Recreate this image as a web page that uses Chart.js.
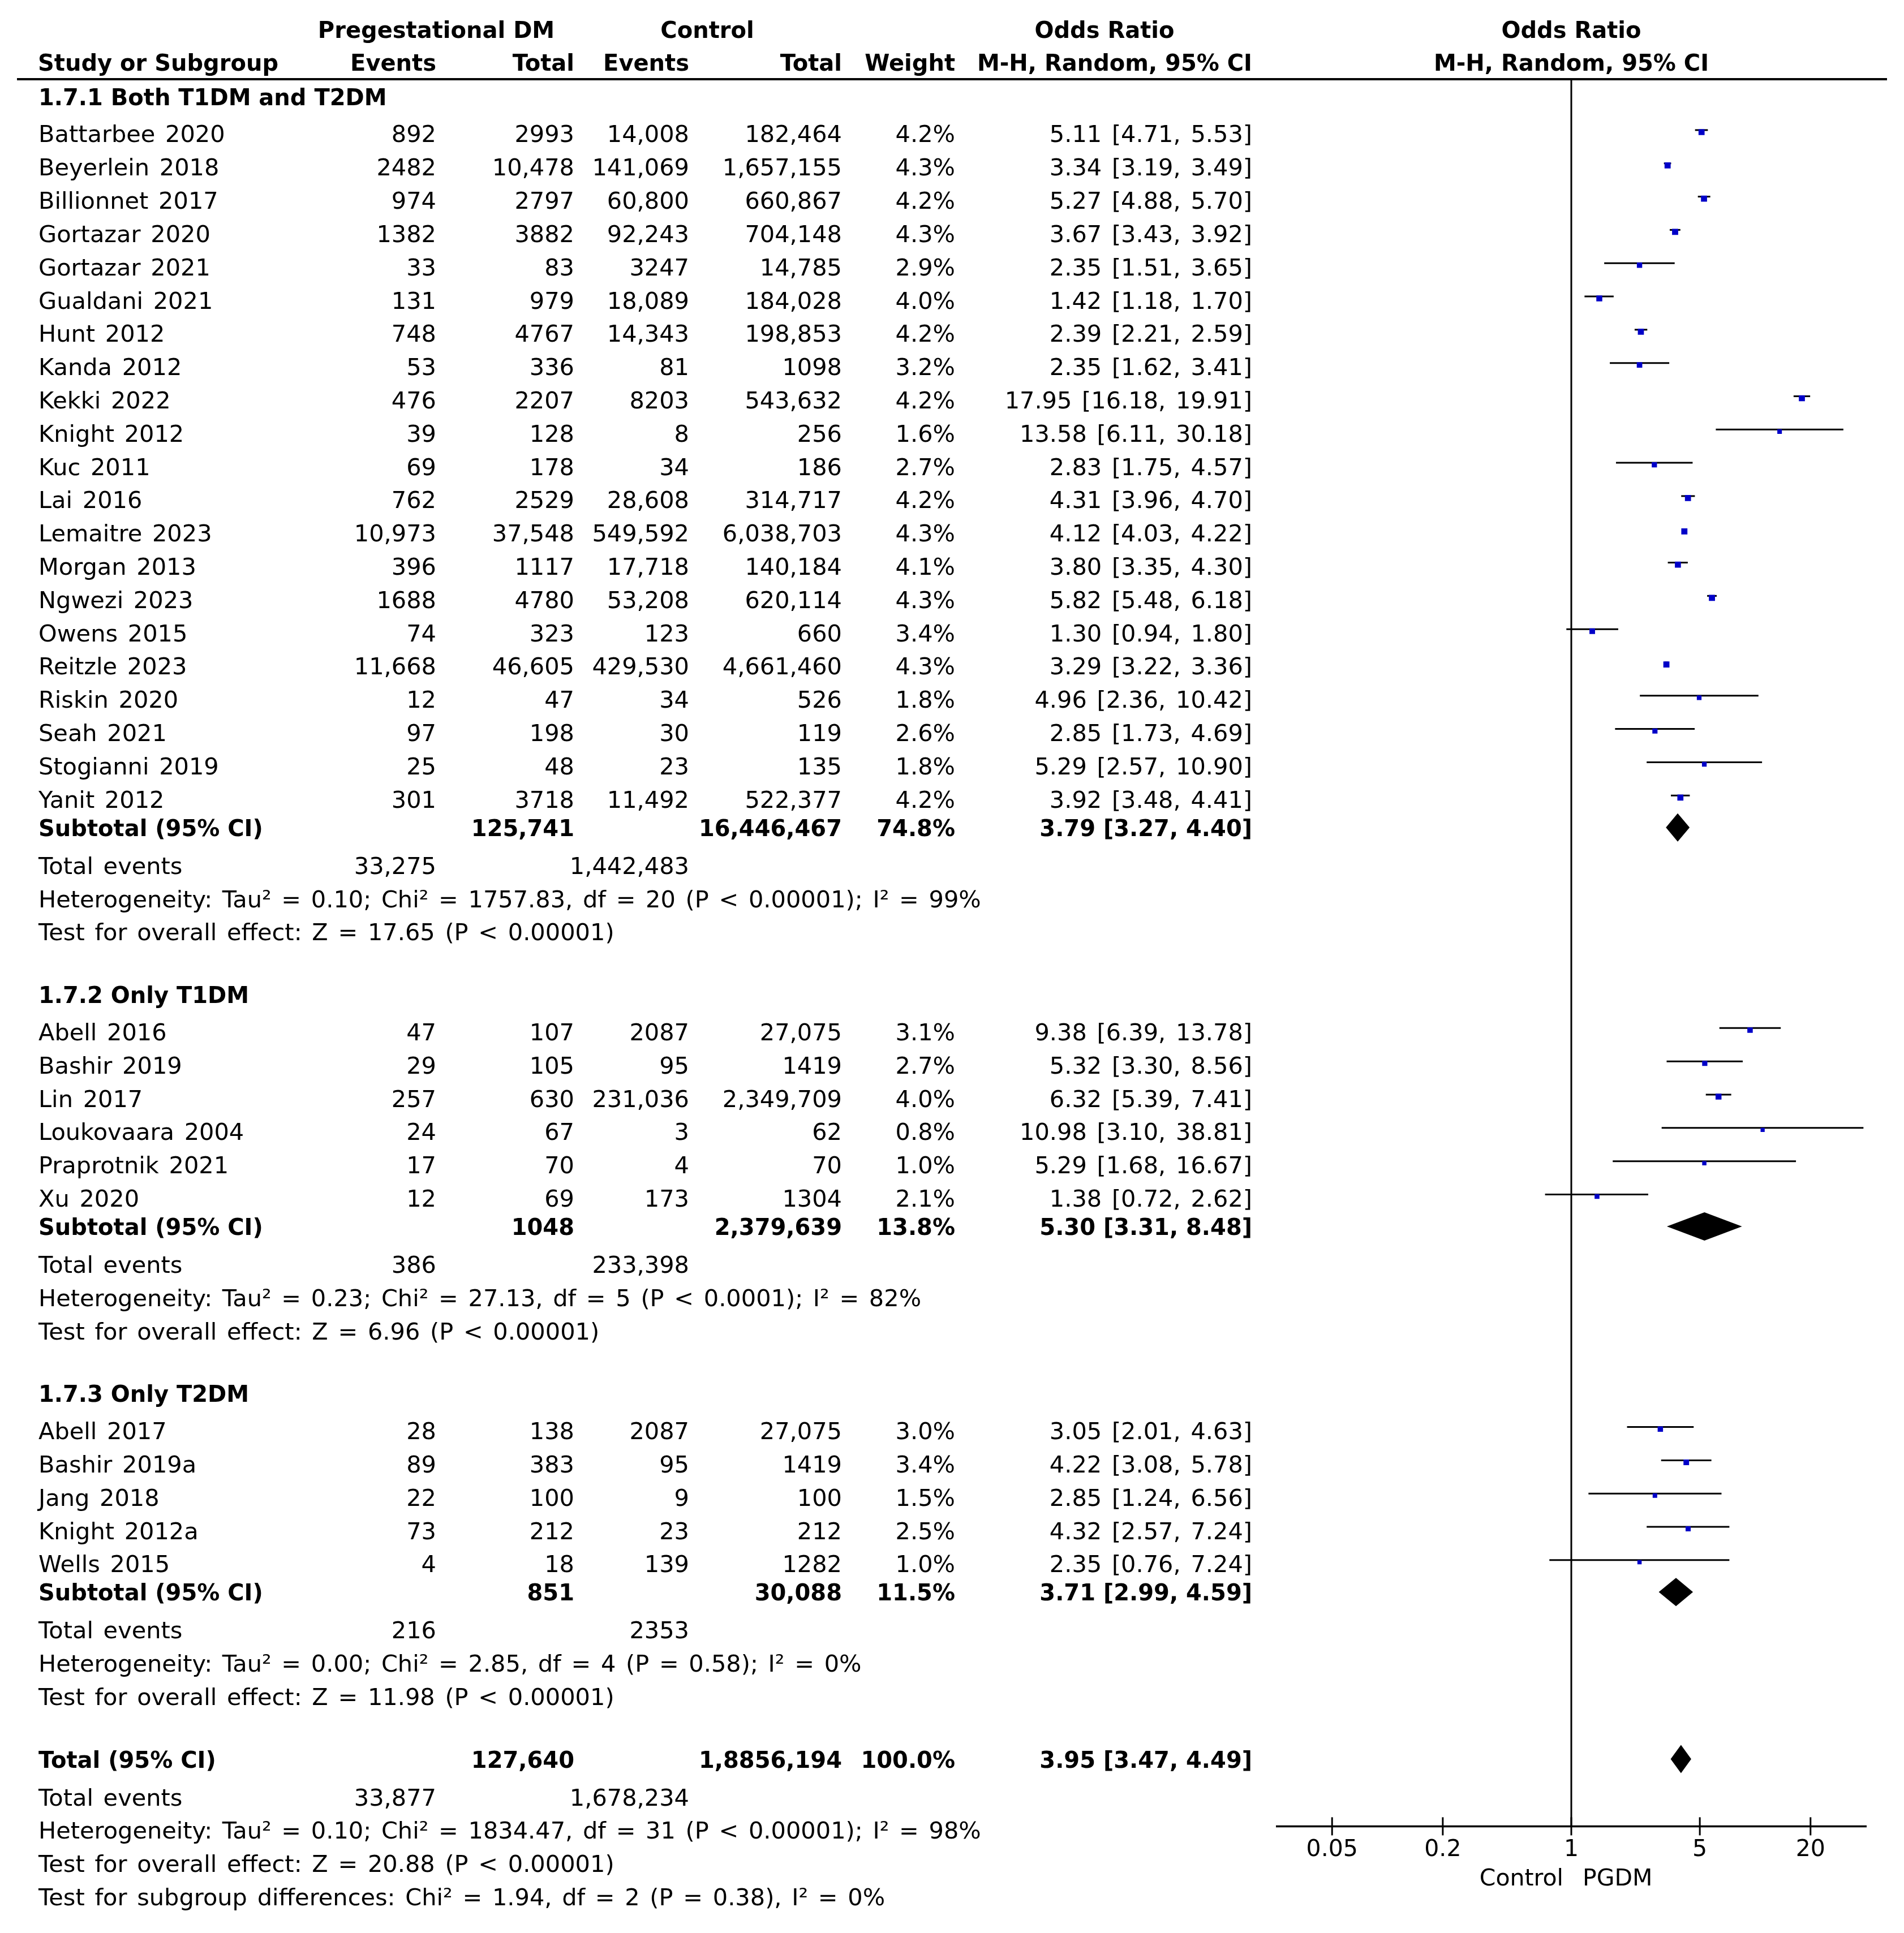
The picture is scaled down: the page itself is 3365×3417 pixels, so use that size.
<!DOCTYPE html>
<html>
<head>
<meta charset="utf-8">
<script src="https://cdn.jsdelivr.net/npm/chart.js@4.4.1/dist/chart.umd.min.js"></script>
<style>
  html, body { margin: 0; padding: 0; background: #fff; }
  canvas { display: block; }
</style>
</head>
<body>
<canvas id="foret" width="3365" height="3417"></canvas>
<script>
// 1.7.1 Both T1DM and T2DM
const noms1 = ['Battarbee 2020', 'Beyerlein 2018', 'Billionnet 2017', 'Gortazar 2020', 'Gortazar 2021',
  'Gualdani 2021', 'Hunt 2012', 'Kanda 2012', 'Kekki 2022', 'Knight 2012', 'Kuc 2011', 'Lai 2016',
  'Lemaitre 2023', 'Morgan 2013', 'Ngwezi 2023', 'Owens 2015', 'Reitzle 2023', 'Riskin 2020',
  'Seah 2021', 'Stogianni 2019', 'Yanit 2012'];
const pgEv1 = [892, 2482, 974, 1382, 33, 131, 748, 53, 476, 39, 69, 762, 10973, 396, 1688, 74, 11668, 12, 97, 25, 301];
const pgTot1 = [2993, 10478, 2797, 3882, 83, 979, 4767, 336, 2207, 128, 178, 2529, 37548, 1117, 4780, 323, 46605, 47, 198, 48, 3718];
const ctEv1 = [14008, 141069, 60800, 92243, 3247, 18089, 14343, 81, 8203, 8, 34, 28608, 549592, 17718, 53208, 123, 429530, 34, 30, 23, 11492];
const ctTot1 = [182464, 1657155, 660867, 704148, 14785, 184028, 198853, 1098, 543632, 256, 186, 314717, 6038703, 140184, 620114, 660, 4661460, 526, 119, 135, 522377];
const poids1 = [4.2, 4.3, 4.2, 4.3, 2.9, 4.0, 4.2, 3.2, 4.2, 1.6, 2.7, 4.2, 4.3, 4.1, 4.3, 3.4, 4.3, 1.8, 2.6, 1.8, 4.2];
const or1 = [5.11, 3.34, 5.27, 3.67, 2.35, 1.42, 2.39, 2.35, 17.95, 13.58, 2.83, 4.31, 4.12, 3.80, 5.82, 1.30, 3.29, 4.96, 2.85, 5.29, 3.92];
const bas1 = [4.71, 3.19, 4.88, 3.43, 1.51, 1.18, 2.21, 1.62, 16.18, 6.11, 1.75, 3.96, 4.03, 3.35, 5.48, 0.94, 3.22, 2.36, 1.73, 2.57, 3.48];
const haut1 = [5.53, 3.49, 5.70, 3.92, 3.65, 1.70, 2.59, 3.41, 19.91, 30.18, 4.57, 4.70, 4.22, 4.30, 6.18, 1.80, 3.36, 10.42, 4.69, 10.90, 4.41];
const sousTotal1 = [125741, 16446467, 74.8, 3.79, 3.27, 4.40];   // total PGDM, total control, poids, OR, bas, haut
const evTot1 = [33275, 1442483];
const hetero1 = 'Heterogeneity: Tau² = 0.10; Chi² = 1757.83, df = 20 (P < 0.00001); I² = 99%';
const effet1 = 'Test for overall effect: Z = 17.65 (P < 0.00001)';

// 1.7.2 Only T1DM
const noms2 = ['Abell 2016', 'Bashir 2019', 'Lin 2017', 'Loukovaara 2004', 'Praprotnik 2021', 'Xu 2020'];
const pgEv2 = [47, 29, 257, 24, 17, 12];
const pgTot2 = [107, 105, 630, 67, 70, 69];
const ctEv2 = [2087, 95, 231036, 3, 4, 173];
const ctTot2 = [27075, 1419, 2349709, 62, 70, 1304];
const poids2 = [3.1, 2.7, 4.0, 0.8, 1.0, 2.1];
const or2 = [9.38, 5.32, 6.32, 10.98, 5.29, 1.38];
const bas2 = [6.39, 3.30, 5.39, 3.10, 1.68, 0.72];
const haut2 = [13.78, 8.56, 7.41, 38.81, 16.67, 2.62];
const sousTotal2 = [1048, 2379639, 13.8, 5.30, 3.31, 8.48];
const evTot2 = [386, 233398];
const hetero2 = 'Heterogeneity: Tau² = 0.23; Chi² = 27.13, df = 5 (P < 0.0001); I² = 82%';
const effet2 = 'Test for overall effect: Z = 6.96 (P < 0.00001)';

// 1.7.3 Only T2DM
const noms3 = ['Abell 2017', 'Bashir 2019a', 'Jang 2018', 'Knight 2012a', 'Wells 2015'];
const pgEv3 = [28, 89, 22, 73, 4];
const pgTot3 = [138, 383, 100, 212, 18];
const ctEv3 = [2087, 95, 9, 23, 139];
const ctTot3 = [27075, 1419, 100, 212, 1282];
const poids3 = [3.0, 3.4, 1.5, 2.5, 1.0];
const or3 = [3.05, 4.22, 2.85, 4.32, 2.35];
const bas3 = [2.01, 3.08, 1.24, 2.57, 0.76];
const haut3 = [4.63, 5.78, 6.56, 7.24, 7.24];
const sousTotal3 = [851, 30088, 11.5, 3.71, 2.99, 4.59];
const evTot3 = [216, 2353];
const hetero3 = 'Heterogeneity: Tau² = 0.00; Chi² = 2.85, df = 4 (P = 0.58); I² = 0%';
const effet3 = 'Test for overall effect: Z = 11.98 (P < 0.00001)';

// Total
const total = [127640, '1,8856,194', 100.0, 3.95, 3.47, 4.49];
const evTotal = [33877, 1678234];
const heteroTotal = 'Heterogeneity: Tau² = 0.10; Chi² = 1834.47, df = 31 (P < 0.00001); I² = 98%';
const effetTotal = 'Test for overall effect: Z = 20.88 (P < 0.00001)';
const diffGroupes = 'Test for subgroup differences: Chi² = 1.94, df = 2 (P = 0.38), I² = 0%';

// Axe
const graduations = [0.05, 0.2, 1, 5, 20];
const etiquettes = ['0.05', '0.2', '1', '5', '20'];

const groupes = [
  { titre: '1.7.1 Both T1DM and T2DM', noms: noms1, pgEv: pgEv1, pgTot: pgTot1, ctEv: ctEv1, ctTot: ctTot1,
    poids: poids1, or: or1, bas: bas1, haut: haut1, st: sousTotal1, ev: evTot1, het: hetero1, eff: effet1 },
  { titre: '1.7.2 Only T1DM', noms: noms2, pgEv: pgEv2, pgTot: pgTot2, ctEv: ctEv2, ctTot: ctTot2,
    poids: poids2, or: or2, bas: bas2, haut: haut2, st: sousTotal2, ev: evTot2, het: hetero2, eff: effet2 },
  { titre: '1.7.3 Only T2DM', noms: noms3, pgEv: pgEv3, pgTot: pgTot3, ctEv: ctEv3, ctTot: ctTot3,
    poids: poids3, or: or3, bas: bas3, haut: haut3, st: sousTotal3, ev: evTot3, het: hetero3, eff: effet3 }
];

// Mise en page : une ligne du tableau = 1 unité sur l'axe y
const PAS = 59.08;
const H = 3417, W = 3365;
const colNom = 68, colPgEv = 771, colPgTot = 1015, colCtEv = 1218, colCtTot = 1488, colPoids = 1688, colOR = 2213;

const fmt = n => (typeof n === 'string') ? n : (n >= 10000 ? n.toLocaleString('en-US') : String(n));
const fmtOR = (o, b, h) => o.toFixed(2) + ' [' + b.toFixed(2) + ', ' + h.toFixed(2) + ']';

const lignes = [];
let y = 2.77;
groupes.forEach((g, gi) => {
  if (gi > 0) y += 1.88;
  lignes.push({ y, type: 'titre', txt: g.titre });
  y += 1.12;
  g.noms.forEach((n, i) => {
    if (i > 0) y += 1;
    lignes.push({ y, type: 'etude', g, i });
  });
  y += 0.85; lignes.push({ y, type: 'soustotal', lib: 'Subtotal (95% CI)', st: g.st });
  y += 1.14; lignes.push({ y, type: 'events', ev: g.ev });
  y += 1; lignes.push({ y, type: 'texte', txt: g.het });
  y += 1; lignes.push({ y, type: 'texte', txt: g.eff });
});
y += 1.88; const yTotal = y; lignes.push({ y, type: 'soustotal', lib: 'Total (95% CI)', st: total });
y += 1.14; lignes.push({ y, type: 'events', ev: evTotal });
y += 1; lignes.push({ y, type: 'texte', txt: heteroTotal });
y += 1; lignes.push({ y, type: 'texte', txt: effetTotal });
y += 1; lignes.push({ y, type: 'texte', txt: diffGroupes });
const yAxe = yTotal + 2.02;

// Points (carrés bleus) : un par étude
const points = [], rayons = [];
lignes.filter(l => l.type === 'etude').forEach(l => {
  points.push({ x: l.g.or[l.i], y: l.y - 0.05 });
  rayons.push((6.5 + l.g.poids[l.i]) / Math.SQRT2);
});

const police = '41.5px "DejaVu Sans"';
const policeGras = 'bold 40px "DejaVu Sans"';
const policeAxe = '41px "DejaVu Sans"';

const pluginForet = {
  id: 'foret',
  beforeDatasetsDraw(chart) {
    const ctx = chart.ctx, sx = chart.scales.x, sy = chart.scales.y;
    const x1 = sx.getPixelForValue(1);
    ctx.save();
    ctx.strokeStyle = '#000';
    ctx.fillStyle = '#000';
    // ligne sous l'en-tête
    ctx.lineWidth = 4;
    ctx.beginPath(); ctx.moveTo(30, sy.getPixelForValue(2.25)); ctx.lineTo(3335, sy.getPixelForValue(2.25)); ctx.stroke();
    // ligne verticale OR = 1
    const yA = sy.getPixelForValue(yAxe);
    ctx.lineWidth = 3;
    ctx.beginPath(); ctx.moveTo(x1, sy.getPixelForValue(2.25)); ctx.lineTo(x1, yA); ctx.stroke();
    // intervalles de confiance
    lignes.filter(l => l.type === 'etude').forEach(l => {
      const py = sy.getPixelForValue(l.y) - 6.5;
      ctx.beginPath();
      ctx.moveTo(sx.getPixelForValue(l.g.bas[l.i]), py);
      ctx.lineTo(sx.getPixelForValue(l.g.haut[l.i]), py);
      ctx.stroke();
    });
    // losanges
    lignes.filter(l => l.type === 'soustotal').forEach(l => {
      const py = sy.getPixelForValue(l.y);
      ctx.beginPath();
      ctx.moveTo(sx.getPixelForValue(l.st[4]), py);
      ctx.lineTo(sx.getPixelForValue(l.st[3]), py - 25);
      ctx.lineTo(sx.getPixelForValue(l.st[5]), py);
      ctx.lineTo(sx.getPixelForValue(l.st[3]), py + 25);
      ctx.closePath();
      ctx.fill();
    });
    // axe des x
    ctx.lineWidth = 3.5;
    ctx.beginPath(); ctx.moveTo(sx.left, yA); ctx.lineTo(sx.right, yA); ctx.stroke();
    ctx.lineWidth = 3;
    ctx.font = policeAxe;
    ctx.textAlign = 'center';
    ctx.textBaseline = 'alphabetic';
    graduations.forEach((v, i) => {
      const px = sx.getPixelForValue(v);
      ctx.beginPath(); ctx.moveTo(px, yA - 16); ctx.lineTo(px, yA + 16); ctx.stroke();
      ctx.fillText(etiquettes[i], px, yA + 38 + 15);
    });
    ctx.textAlign = 'right'; ctx.fillText('Control', x1 - 14, yA + 90 + 15);
    ctx.textAlign = 'left'; ctx.fillText('PGDM', x1 + 20, yA + 90 + 15);
    ctx.restore();
  },
  afterDatasetsDraw(chart) {
    const ctx = chart.ctx, sy = chart.scales.y, sx = chart.scales.x;
    const x1 = sx.getPixelForValue(1);
    ctx.save();
    ctx.fillStyle = '#000';
    ctx.textBaseline = 'alphabetic';
    const ecrire = (t, x, yy, align, gras) => {
      ctx.font = gras ? policeGras : police;
      ctx.wordSpacing = gras ? '0px' : '4.5px';
      ctx.textAlign = align;
      ctx.fillText(t, x, sy.getPixelForValue(yy) + 15);
    };
    // en-têtes
    ecrire('Pregestational DM', 771, 0.76, 'center', true);
    ecrire('Control', 1250, 0.76, 'center', true);
    ecrire('Odds Ratio', 1952, 0.76, 'center', true);
    ecrire('Odds Ratio', x1, 0.76, 'center', true);
    ecrire('Study or Subgroup', 67, 1.745, 'left', true);
    ecrire('Events', colPgEv, 1.745, 'right', true);
    ecrire('Total', colPgTot, 1.745, 'right', true);
    ecrire('Events', colCtEv, 1.745, 'right', true);
    ecrire('Total', colCtTot, 1.745, 'right', true);
    ecrire('Weight', colPoids, 1.745, 'right', true);
    ecrire('M-H, Random, 95% CI', colOR, 1.745, 'right', true);
    ecrire('M-H, Random, 95% CI', x1, 1.745, 'center', true);

    lignes.forEach(l => {
      if (l.type === 'titre') ecrire(l.txt, colNom, l.y, 'left', true);
      else if (l.type === 'texte') ecrire(l.txt, colNom, l.y, 'left', false);
      else if (l.type === 'etude') {
        const g = l.g, i = l.i;
        ecrire(g.noms[i], colNom, l.y, 'left', false);
        ecrire(fmt(g.pgEv[i]), colPgEv, l.y, 'right', false);
        ecrire(fmt(g.pgTot[i]), colPgTot, l.y, 'right', false);
        ecrire(fmt(g.ctEv[i]), colCtEv, l.y, 'right', false);
        ecrire(fmt(g.ctTot[i]), colCtTot, l.y, 'right', false);
        ecrire(g.poids[i].toFixed(1) + '%', colPoids, l.y, 'right', false);
        ecrire(fmtOR(g.or[i], g.bas[i], g.haut[i]), colOR, l.y, 'right', false);
      } else if (l.type === 'soustotal') {
        ecrire(l.lib, colNom, l.y, 'left', true);
        ecrire(fmt(l.st[0]), colPgTot, l.y, 'right', true);
        ecrire(fmt(l.st[1]), colCtTot, l.y, 'right', true);
        ecrire(l.st[2].toFixed(1) + '%', colPoids, l.y, 'right', true);
        ecrire(fmtOR(l.st[3], l.st[4], l.st[5]), colOR, l.y, 'right', true);
      } else if (l.type === 'events') {
        ecrire('Total events', colNom, l.y, 'left', false);
        ecrire(fmt(l.ev[0]), colPgEv, l.y, 'right', false);
        ecrire(fmt(l.ev[1]), colCtEv, l.y, 'right', false);
      }
    });
    ctx.restore();
  }
};

const graphique = new Chart(document.getElementById('foret'), {
  type: 'scatter',
  data: {
    datasets: [{
      data: points,
      pointStyle: 'rect',
      pointRadius: rayons,
      pointBackgroundColor: '#0000C8',
      pointBorderColor: '#0000C8',
      pointBorderWidth: 0,
      showLine: false
    }]
  },
  options: {
    responsive: false,
    animation: false,
    devicePixelRatio: 1,
    events: [],
    layout: { padding: { left: 2255, right: W - 3299, top: 0, bottom: 0 } },
    scales: {
      x: { type: 'logarithmic', min: 1 / 40.4, max: 40.4, bounds: 'data', display: false },
      y: { type: 'linear', min: 0, max: H / PAS, reverse: true, display: false }
    },
    plugins: { legend: { display: false }, tooltip: { enabled: false } }
  },
  plugins: [pluginForet]
});
</script>
</body>
</html>
